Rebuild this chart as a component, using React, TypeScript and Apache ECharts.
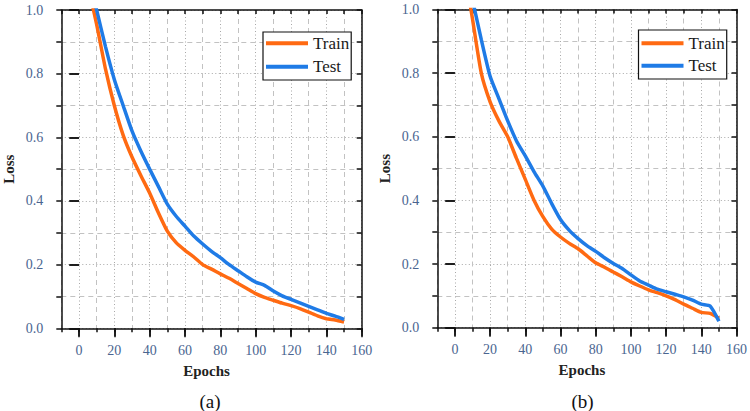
import React, { useEffect, useRef } from "react";
import * as echarts from "echarts";

// Training history, sampled every 5 epochs
const epochs = [
  5, 10, 15, 20, 25, 30, 35, 40, 45, 50, 55, 60, 65, 70, 75, 80, 85, 90, 95, 100,
  105, 110, 115, 120, 125, 130, 135, 140, 145, 150,
];
const trainLossA = [
  1.08, 0.955, 0.815, 0.7, 0.607, 0.538, 0.48, 0.425, 0.362, 0.305, 0.269, 0.245,
  0.224, 0.2, 0.186, 0.171, 0.157, 0.141, 0.125, 0.109, 0.097, 0.088, 0.079, 0.071,
  0.062, 0.051, 0.039, 0.03, 0.026, 0.02,
];
const testLossA = [
  1.11, 1.0, 0.885, 0.782, 0.7, 0.62, 0.557, 0.5, 0.445, 0.39, 0.352, 0.321, 0.29,
  0.265, 0.242, 0.222, 0.2, 0.181, 0.162, 0.145, 0.135, 0.117, 0.102, 0.091, 0.08,
  0.069, 0.058, 0.047, 0.038, 0.028,
];
const trainLossB = [
  1.14, 0.97, 0.8, 0.71, 0.65, 0.6, 0.532, 0.466, 0.4, 0.349, 0.31, 0.285, 0.265,
  0.248, 0.226, 0.204, 0.19, 0.175, 0.16, 0.144, 0.131, 0.119, 0.11, 0.1, 0.088,
  0.074, 0.061, 0.048, 0.045, 0.03,
];
const testLossB = [
  1.14, 1.03, 0.905, 0.79, 0.72, 0.65, 0.587, 0.54, 0.49, 0.445, 0.39, 0.34, 0.306,
  0.28, 0.258, 0.24, 0.22, 0.202, 0.186, 0.166, 0.147, 0.134, 0.121, 0.113, 0.105,
  0.097, 0.087, 0.074, 0.068, 0.02,
];

const seriesNames = ["Train", "Test"];
const panelCaptions = ["(a)", "(b)"];
const xMajorTicks = [0, 20, 40, 60, 80, 100, 120, 140, 160];
const yMajorTicks = [0, 0.2, 0.4, 0.6, 0.8, 1.0];

const FONT = "Liberation Serif";
const INK = "#111111";
const LABEL_COLOR = "#4a6590";
const DOT_GRID = "#a8a8a8";
const DASH_GRID = "#c2c2c2";
const ORANGE = "#ff6a12";
const BLUE = "#1f7be6";

const panels = [
  { train: trainLossA, test: testLossA, left: 61.3, right: 388.3, top: 10, bottom: 82.7,
    legendLeft: 263, legendTop: 32, legendGap: 6.4, legendPad: [2.8, 2, 4.8, 3],
    captionX: 210 },
  { train: trainLossB, test: testLossB, left: 437.3, right: 13, top: 9.5, bottom: 83.3,
    legendLeft: 638.5, legendTop: 30, legendGap: 5.4, legendPad: [4.8, 2, 4.8, 3],
    captionX: 582.5 },
];

const axisLineStyle = { color: INK, width: 1.5 };

function xAxesFor(gridIndex: number) {
  const base = { type: "value", gridIndex, min: -10, max: 160, interval: 10 };
  return [
    {
      ...base,
      position: "bottom",
      name: "Epochs",
      nameLocation: "middle",
      nameGap: 35,
      nameTextStyle: { fontFamily: FONT, fontSize: 15, fontWeight: "bold", color: "#222", padding: [0, 10, 0, 0] },
      axisLine: { show: true, onZero: false, lineStyle: axisLineStyle },
      axisTick: { show: true, inside: false, length: 4, lineStyle: axisLineStyle },
      axisLabel: {
        show: true, margin: 15, customValues: xMajorTicks,
        fontFamily: FONT, fontSize: 14, color: LABEL_COLOR,
      },
      splitLine: { show: true, lineStyle: { color: ["transparent", DOT_GRID], type: [1, 2.5], width: 1 } },
    },
    {
      ...base,
      position: "bottom",
      axisLine: { show: false },
      axisTick: { show: true, inside: false, length: 9, customValues: xMajorTicks, lineStyle: axisLineStyle },
      axisLabel: { show: false },
      splitLine: { show: false },
    },
    {
      ...base,
      position: "top",
      axisLine: { show: true, onZero: false, lineStyle: axisLineStyle },
      axisTick: { show: true, inside: true, length: 4, lineStyle: axisLineStyle },
      axisLabel: { show: false },
      splitLine: { show: true, lineStyle: { color: [DASH_GRID, "transparent"], type: [5, 4], width: 1 } },
    },
    {
      ...base,
      position: "top",
      axisLine: { show: false },
      axisTick: { show: true, inside: true, length: 8, customValues: xMajorTicks, lineStyle: axisLineStyle },
      axisLabel: { show: false },
      splitLine: { show: false },
    },
  ];
}

function yAxesFor(gridIndex: number) {
  const base = { type: "value", gridIndex, min: 0, max: 1, interval: 0.1 };
  return [
    {
      ...base,
      position: "left",
      name: "Loss",
      nameLocation: "middle",
      nameGap: 45,
      nameTextStyle: { fontFamily: FONT, fontSize: 15, fontWeight: "bold", color: "#222" },
      axisLine: { show: true, onZero: false, lineStyle: axisLineStyle },
      axisTick: { show: true, inside: false, length: 5, lineStyle: axisLineStyle },
      axisLabel: {
        show: true, margin: 18, customValues: yMajorTicks,
        formatter: (v: number) => v.toFixed(1),
        fontFamily: FONT, fontSize: 14, color: LABEL_COLOR,
      },
      splitLine: { show: true, lineStyle: { color: [DOT_GRID, "transparent"], type: [1, 2.5], width: 1 } },
    },
    {
      ...base,
      position: "left",
      axisLine: { show: false },
      axisTick: { show: true, inside: false, length: 10, customValues: yMajorTicks, lineStyle: axisLineStyle },
      axisLabel: { show: false },
      splitLine: { show: false },
    },
    {
      ...base,
      position: "right",
      axisLine: { show: true, onZero: false, lineStyle: axisLineStyle },
      axisTick: { show: true, inside: true, length: 5, lineStyle: axisLineStyle },
      axisLabel: { show: false },
      splitLine: { show: true, lineStyle: { color: ["transparent", DASH_GRID], type: [5, 4], width: 1 } },
    },
    {
      ...base,
      position: "right",
      axisLine: { show: false },
      axisTick: { show: true, inside: true, length: 9, customValues: yMajorTicks, lineStyle: axisLineStyle },
      axisLabel: { show: false },
      splitLine: { show: false },
    },
  ];
}

function buildOption() {
  const grid = panels.map((p) => ({ left: p.left, right: p.right, top: p.top, bottom: p.bottom, containLabel: false }));
  const xAxis = panels.flatMap((_, i) => xAxesFor(i));
  const yAxis = panels.flatMap((_, i) => yAxesFor(i));
  const lineOf = (name: string, values: number[], color: string, i: number, z: number) => ({
    type: "line", name, xAxisIndex: i * 4, yAxisIndex: i * 4,
    data: epochs.map((e, k) => [e, values[k]]),
    symbol: "none", showSymbol: false, clip: true, z,
    smooth: 0.2,
    lineStyle: { width: 3.5, color }, itemStyle: { color },
  });
  const series = panels.flatMap((p, i) => [
    lineOf(seriesNames[0], p.train, ORANGE, i, 3),
    lineOf(seriesNames[1], p.test, BLUE, i, 4),
  ]);
  const legend = panels.map((p) => ({
    data: seriesNames,
    orient: "vertical",
    left: p.legendLeft,
    top: p.legendTop,
    padding: p.legendPad,
    itemGap: p.legendGap,
    itemWidth: 42,
    itemHeight: 4,
    icon: "rect",
    selectedMode: false,
    backgroundColor: "#ffffff",
    borderColor: INK,
    borderWidth: 1.2,
    borderRadius: 0,
    textStyle: { fontFamily: FONT, fontSize: 17, color: "#1a1a1a" },
  }));
  const graphic = panels.map((p, i) => ({
    type: "text",
    x: p.captionX,
    y: 401.5,
    style: {
      text: panelCaptions[i],
      font: `19px ${FONT}`,
      fill: "#111",
      align: "center",
      verticalAlign: "middle",
      textAlign: "center",
      textVerticalAlign: "middle",
    },
  }));
  return {
    animation: false,
    backgroundColor: "#ffffff",
    textStyle: { fontFamily: FONT },
    grid,
    xAxis,
    yAxis,
    series,
    legend,
    graphic,
  };
}

export default function App() {
  const ref = useRef<HTMLDivElement>(null);
  useEffect(() => {
    if (!ref.current) return;
    const chart = echarts.init(ref.current, undefined, { renderer: "svg" });
    chart.setOption(buildOption() as any);
    return () => chart.dispose();
  }, []);
  return (
    <div
      ref={ref}
      style={{ position: "fixed", left: 0, top: 0, width: 750, height: 411, background: "#fff" }}
    />
  );
}
